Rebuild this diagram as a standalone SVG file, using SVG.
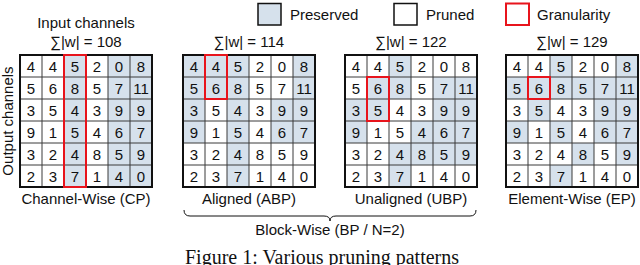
<svg xmlns="http://www.w3.org/2000/svg" width="640" height="265" viewBox="0 0 640 265">
<style>
text{font-family:"Liberation Sans",Arial,sans-serif;fill:#111}
.lbl{font-size:15px;text-anchor:middle}
.leg{font-size:15px}
.num{font-size:15px;text-anchor:middle}
.cap{font-family:"Liberation Serif","Times New Roman",serif;font-size:20px;text-anchor:middle}
.sh{fill:#d6e1ec}
.grid{fill:none;stroke:#3a3a3a;stroke-width:1}
.border{fill:none;stroke:#111;stroke-width:2}
.red{fill:none;stroke:#e8141c;stroke-width:2}
.brace{fill:none;stroke:#111;stroke-width:1}
</style>
<rect width="640" height="265" fill="#fff"/>
<g id="legend">
<rect x="258" y="3.5" width="23" height="21.5" fill="#d6e1ec" stroke="#111" stroke-width="1.5"/>
<text class="leg" x="290" y="20">Preserved</text>
<rect x="394" y="3.5" width="23" height="21.5" fill="#fff" stroke="#111" stroke-width="1.5"/>
<text class="leg" x="426" y="20">Pruned</text>
<rect x="506" y="3.5" width="23" height="21.5" fill="none" stroke="#e8141c" stroke-width="2"/>
<text class="leg" x="537" y="20">Granularity</text>
</g>
<text class="lbl" x="86" y="28">Input channels</text>
<text class="lbl" transform="translate(13,121) rotate(-90)">Output channels</text>
<g id="cp" transform="translate(20,55)">
<text class="lbl" x="66" y="-8">∑|w| = 108</text>
<rect class="sh" x="44" y="0" width="22" height="132"/>
<rect class="sh" x="88" y="0" width="44" height="132"/>
<path class="grid" d="M22 0V132M44 0V132M66 0V132M88 0V132M110 0V132M0 22H132M0 44H132M0 66H132M0 88H132M0 110H132"/>
<g class="num">
<text x="11" y="16.5">4</text><text x="33" y="16.5">4</text><text x="55" y="16.5">5</text><text x="77" y="16.5">2</text><text x="99" y="16.5">0</text><text x="121" y="16.5">8</text>
<text x="11" y="38.5">5</text><text x="33" y="38.5">6</text><text x="55" y="38.5">8</text><text x="77" y="38.5">5</text><text x="99" y="38.5">7</text><text x="121" y="38.5">11</text>
<text x="11" y="60.5">3</text><text x="33" y="60.5">5</text><text x="55" y="60.5">4</text><text x="77" y="60.5">3</text><text x="99" y="60.5">9</text><text x="121" y="60.5">9</text>
<text x="11" y="82.5">9</text><text x="33" y="82.5">1</text><text x="55" y="82.5">5</text><text x="77" y="82.5">4</text><text x="99" y="82.5">6</text><text x="121" y="82.5">7</text>
<text x="11" y="104.5">3</text><text x="33" y="104.5">2</text><text x="55" y="104.5">4</text><text x="77" y="104.5">8</text><text x="99" y="104.5">5</text><text x="121" y="104.5">9</text>
<text x="11" y="126.5">2</text><text x="33" y="126.5">3</text><text x="55" y="126.5">7</text><text x="77" y="126.5">1</text><text x="99" y="126.5">4</text><text x="121" y="126.5">0</text>
</g>
<rect class="border" x="0" y="0" width="132" height="132"/>
<rect class="red" x="44" y="0" width="22" height="132"/>
<text class="lbl" x="66" y="149">Channel-Wise (CP)</text>
</g>
<g id="abp" transform="translate(183,55)">
<text class="lbl" x="66" y="-8">∑|w| = 114</text>
<rect class="sh" x="0" y="0" width="22" height="88"/>
<rect class="sh" x="22" y="0" width="22" height="44"/>
<rect class="sh" x="44" y="0" width="22" height="132"/>
<rect class="sh" x="88" y="44" width="22" height="44"/>
<rect class="sh" x="110" y="0" width="22" height="88"/>
<path class="grid" d="M22 0V132M44 0V132M66 0V132M88 0V132M110 0V132M0 22H132M0 44H132M0 66H132M0 88H132M0 110H132"/>
<g class="num">
<text x="11" y="16.5">4</text><text x="33" y="16.5">4</text><text x="55" y="16.5">5</text><text x="77" y="16.5">2</text><text x="99" y="16.5">0</text><text x="121" y="16.5">8</text>
<text x="11" y="38.5">5</text><text x="33" y="38.5">6</text><text x="55" y="38.5">8</text><text x="77" y="38.5">5</text><text x="99" y="38.5">7</text><text x="121" y="38.5">11</text>
<text x="11" y="60.5">3</text><text x="33" y="60.5">5</text><text x="55" y="60.5">4</text><text x="77" y="60.5">3</text><text x="99" y="60.5">9</text><text x="121" y="60.5">9</text>
<text x="11" y="82.5">9</text><text x="33" y="82.5">1</text><text x="55" y="82.5">5</text><text x="77" y="82.5">4</text><text x="99" y="82.5">6</text><text x="121" y="82.5">7</text>
<text x="11" y="104.5">3</text><text x="33" y="104.5">2</text><text x="55" y="104.5">4</text><text x="77" y="104.5">8</text><text x="99" y="104.5">5</text><text x="121" y="104.5">9</text>
<text x="11" y="126.5">2</text><text x="33" y="126.5">3</text><text x="55" y="126.5">7</text><text x="77" y="126.5">1</text><text x="99" y="126.5">4</text><text x="121" y="126.5">0</text>
</g>
<rect class="border" x="0" y="0" width="132" height="132"/>
<rect class="red" x="22" y="0" width="22" height="44"/>
<text class="lbl" x="66" y="149">Aligned (ABP)</text>
</g>
<g id="ubp" transform="translate(345,55)">
<text class="lbl" x="66" y="-8">∑|w| = 122</text>
<rect class="sh" x="0" y="44" width="22" height="44"/>
<rect class="sh" x="22" y="22" width="22" height="44"/>
<rect class="sh" x="44" y="0" width="22" height="44"/>
<rect class="sh" x="44" y="88" width="22" height="44"/>
<rect class="sh" x="66" y="66" width="22" height="44"/>
<rect class="sh" x="88" y="22" width="44" height="88"/>
<path class="grid" d="M22 0V132M44 0V132M66 0V132M88 0V132M110 0V132M0 22H132M0 44H132M0 66H132M0 88H132M0 110H132"/>
<g class="num">
<text x="11" y="16.5">4</text><text x="33" y="16.5">4</text><text x="55" y="16.5">5</text><text x="77" y="16.5">2</text><text x="99" y="16.5">0</text><text x="121" y="16.5">8</text>
<text x="11" y="38.5">5</text><text x="33" y="38.5">6</text><text x="55" y="38.5">8</text><text x="77" y="38.5">5</text><text x="99" y="38.5">7</text><text x="121" y="38.5">11</text>
<text x="11" y="60.5">3</text><text x="33" y="60.5">5</text><text x="55" y="60.5">4</text><text x="77" y="60.5">3</text><text x="99" y="60.5">9</text><text x="121" y="60.5">9</text>
<text x="11" y="82.5">9</text><text x="33" y="82.5">1</text><text x="55" y="82.5">5</text><text x="77" y="82.5">4</text><text x="99" y="82.5">6</text><text x="121" y="82.5">7</text>
<text x="11" y="104.5">3</text><text x="33" y="104.5">2</text><text x="55" y="104.5">4</text><text x="77" y="104.5">8</text><text x="99" y="104.5">5</text><text x="121" y="104.5">9</text>
<text x="11" y="126.5">2</text><text x="33" y="126.5">3</text><text x="55" y="126.5">7</text><text x="77" y="126.5">1</text><text x="99" y="126.5">4</text><text x="121" y="126.5">0</text>
</g>
<rect class="border" x="0" y="0" width="132" height="132"/>
<rect class="red" x="22" y="22" width="22" height="44"/>
<text class="lbl" x="66" y="149">Unaligned (UBP)</text>
</g>
<g id="ep" transform="translate(506,55)">
<text class="lbl" x="66" y="-8">∑|w| = 129</text>
<rect class="sh" x="44" y="0" width="22" height="44"/>
<rect class="sh" x="110" y="0" width="22" height="132"/>
<rect class="sh" x="0" y="22" width="110" height="22"/>
<rect class="sh" x="22" y="44" width="22" height="22"/>
<rect class="sh" x="88" y="44" width="22" height="44"/>
<rect class="sh" x="0" y="66" width="22" height="22"/>
<rect class="sh" x="44" y="66" width="22" height="22"/>
<rect class="sh" x="66" y="88" width="22" height="22"/>
<rect class="sh" x="44" y="110" width="22" height="22"/>
<rect fill="#fff" x="110" y="110" width="22" height="22"/>
<path class="grid" d="M22 0V132M44 0V132M66 0V132M88 0V132M110 0V132M0 22H132M0 44H132M0 66H132M0 88H132M0 110H132"/>
<g class="num">
<text x="11" y="16.5">4</text><text x="33" y="16.5">4</text><text x="55" y="16.5">5</text><text x="77" y="16.5">2</text><text x="99" y="16.5">0</text><text x="121" y="16.5">8</text>
<text x="11" y="38.5">5</text><text x="33" y="38.5">6</text><text x="55" y="38.5">8</text><text x="77" y="38.5">5</text><text x="99" y="38.5">7</text><text x="121" y="38.5">11</text>
<text x="11" y="60.5">3</text><text x="33" y="60.5">5</text><text x="55" y="60.5">4</text><text x="77" y="60.5">3</text><text x="99" y="60.5">9</text><text x="121" y="60.5">9</text>
<text x="11" y="82.5">9</text><text x="33" y="82.5">1</text><text x="55" y="82.5">5</text><text x="77" y="82.5">4</text><text x="99" y="82.5">6</text><text x="121" y="82.5">7</text>
<text x="11" y="104.5">3</text><text x="33" y="104.5">2</text><text x="55" y="104.5">4</text><text x="77" y="104.5">8</text><text x="99" y="104.5">5</text><text x="121" y="104.5">9</text>
<text x="11" y="126.5">2</text><text x="33" y="126.5">3</text><text x="55" y="126.5">7</text><text x="77" y="126.5">1</text><text x="99" y="126.5">4</text><text x="121" y="126.5">0</text>
</g>
<rect class="border" x="0" y="0" width="132" height="132"/>
<rect class="red" x="22" y="22" width="22" height="22"/>
<text class="lbl" x="66" y="149">Element-Wise (EP)</text>
</g>
<g id="connectors">
<path class="brace" d="M184 210q0 6 6 6H324q6 0 6 5q0-5 6-5H470q6 0 6-6"/>
</g>
<text class="lbl" x="330" y="235">Block-Wise (BP / N=2)</text>
<text class="cap" x="322" y="264">Figure 1: Various pruning patterns</text>
</svg>
